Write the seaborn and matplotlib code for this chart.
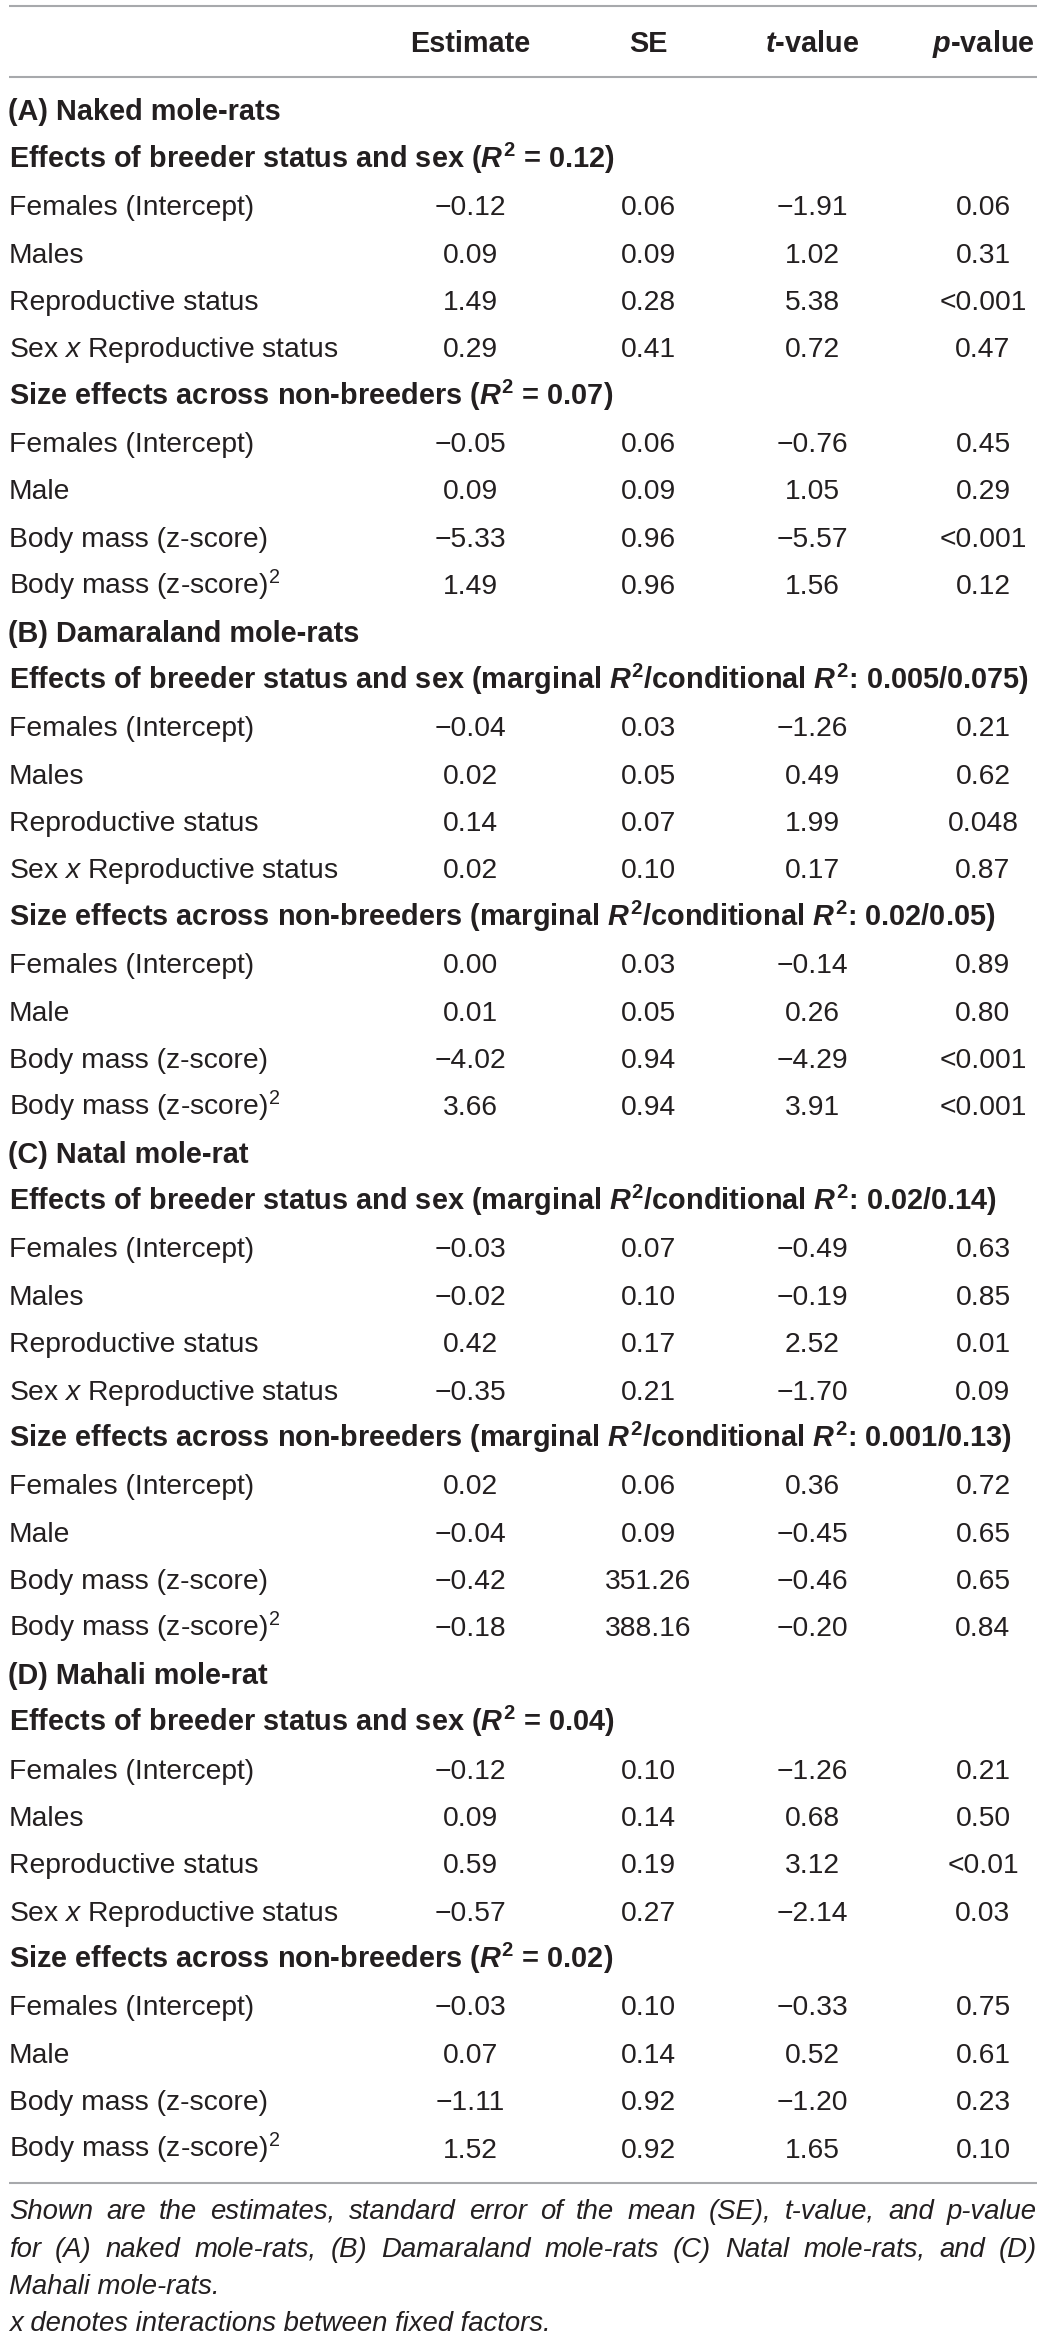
import matplotlib
matplotlib.use("Agg")
import matplotlib.pyplot as plt
import seaborn as sns

# ---------------- data ----------------
columns = ["Estimate", "SE", "t-value", "p-value"]
species = ["(A) Naked mole-rats", "(B) Damaraland mole-rats",
           "(C) Natal mole-rat", "(D) Mahali mole-rat"]
r2_labels = [
    ("$\\mathit{R}^{\\mathbf{2}}$ = 0.12", "$\\mathit{R}^{\\mathbf{2}}$ = 0.07"),
    ("marginal $\\mathit{R}^{\\mathbf{2}}$/conditional $\\mathit{R}^{\\mathbf{2}}$: 0.005/0.075",
     "marginal $\\mathit{R}^{\\mathbf{2}}$/conditional $\\mathit{R}^{\\mathbf{2}}$: 0.02/0.05"),
    ("marginal $\\mathit{R}^{\\mathbf{2}}$/conditional $\\mathit{R}^{\\mathbf{2}}$: 0.02/0.14",
     "marginal $\\mathit{R}^{\\mathbf{2}}$/conditional $\\mathit{R}^{\\mathbf{2}}$: 0.001/0.13"),
    ("$\\mathit{R}^{\\mathbf{2}}$ = 0.04", "$\\mathit{R}^{\\mathbf{2}}$ = 0.02"),
]
model_titles = ["Effects of breeder status and sex", "Size effects across non-breeders"]
terms_status = ["Females (Intercept)", "Males", "Reproductive status",
                "Sex $\\mathsf{x}$ Reproductive status"]
terms_size = ["Females (Intercept)", "Male", "Body mass (z-score)",
              "Body mass (z-score)$^{\\mathrm{2}}$"]

estimate = [
    [["−0.12", "0.09", "1.49", "0.29"], ["−0.05", "0.09", "−5.33", "1.49"]],
    [["−0.04", "0.02", "0.14", "0.02"], ["0.00", "0.01", "−4.02", "3.66"]],
    [["−0.03", "−0.02", "0.42", "−0.35"], ["0.02", "−0.04", "−0.42", "−0.18"]],
    [["−0.12", "0.09", "0.59", "−0.57"], ["−0.03", "0.07", "−1.11", "1.52"]],
]
se = [
    [["0.06", "0.09", "0.28", "0.41"], ["0.06", "0.09", "0.96", "0.96"]],
    [["0.03", "0.05", "0.07", "0.10"], ["0.03", "0.05", "0.94", "0.94"]],
    [["0.07", "0.10", "0.17", "0.21"], ["0.06", "0.09", "351.26", "388.16"]],
    [["0.10", "0.14", "0.19", "0.27"], ["0.10", "0.14", "0.92", "0.92"]],
]
tval = [
    [["−1.91", "1.02", "5.38", "0.72"], ["−0.76", "1.05", "−5.57", "1.56"]],
    [["−1.26", "0.49", "1.99", "0.17"], ["−0.14", "0.26", "−4.29", "3.91"]],
    [["−0.49", "−0.19", "2.52", "−1.70"], ["0.36", "−0.45", "−0.46", "−0.20"]],
    [["−1.26", "0.68", "3.12", "−2.14"], ["−0.33", "0.52", "−1.20", "1.65"]],
]
pval = [
    [["0.06", "0.31", "<0.001", "0.47"], ["0.45", "0.29", "<0.001", "0.12"]],
    [["0.21", "0.62", "0.048", "0.87"], ["0.89", "0.80", "<0.001", "<0.001"]],
    [["0.63", "0.85", "0.01", "0.09"], ["0.72", "0.65", "0.65", "0.84"]],
    [["0.21", "0.50", "<0.01", "0.03"], ["0.75", "0.61", "0.23", "0.10"]],
]
caption_lines = [
    "Shown are the estimates, standard error of the mean (SE), t-value, and p-value",
    "for (A) naked mole-rats, (B) Damaraland mole-rats (C) Natal mole-rats, and (D)",
    "Mahali mole-rats.",
    "x denotes interactions between fixed factors.",
]

# ---------------- style ----------------
sns.set_theme(style="white")
FONT = "Liberation Sans"
plt.rcParams["font.family"] = [FONT, "DejaVu Sans"]
plt.rcParams["mathtext.fontset"] = "custom"
plt.rcParams["mathtext.rm"] = FONT
plt.rcParams["mathtext.it"] = FONT + ":italic:bold"
plt.rcParams["mathtext.bf"] = FONT + ":bold"
plt.rcParams["mathtext.sf"] = FONT + ":italic"

TXT = "#231f20"
RULE = "#a7a9ac"
FS_B = 20.8
FS = 20.3

W, H = 1043, 2338
fig = plt.figure(figsize=(W / 100, H / 100), dpi=100)
ax = fig.add_axes([0, 0, 1, 1])
ax.set_xlim(0, W)
ax.set_ylim(H, 0)
ax.axis("off")

col_x = [470, 648, 812, 983]
left_x = 9
right_x = 1037
header_y = 42
row0 = 110
step = (2147 - 110) / 43
base_off = 10.5

# rules
ax.hlines([6, 77, 2183], left_x, right_x, color=RULE, lw=1.5)

# header
hdr = ["Estimate", "SE", "$\\mathit{t}$-value", "$\\mathit{p}$-value"]
for x, h in zip(col_x, hdr):
    ax.text(x, header_y + base_off, h, ha="center", va="baseline",
            fontsize=FS_B, fontweight="bold", color=TXT)

renderer = fig.canvas.get_renderer()

# body
r = 0
for s in range(len(species)):
    ax.text(left_x - 1, row0 + r * step + base_off, species[s], ha="left",
            va="baseline", fontsize=FS_B, fontweight="bold", color=TXT)
    r += 1
    for m in range(2):
        title = f"{model_titles[m]} ({r2_labels[s][m]})"
        t = ax.text(left_x, row0 + r * step + base_off, title, ha="left",
                    va="baseline", fontsize=FS_B, fontweight="bold", color=TXT)
        wdt = t.get_window_extent(renderer).width
        if wdt > right_x - left_x:
            t.set_fontsize(FS_B * (right_x - left_x) / wdt)
        r += 1
        terms = terms_status if m == 0 else terms_size
        for k in range(4):
            y = row0 + r * step + base_off
            ax.text(left_x, y, terms[k], ha="left", va="baseline",
                    fontsize=FS, color=TXT)
            vals = [estimate[s][m][k], se[s][m][k], tval[s][m][k], pval[s][m][k]]
            for x, v in zip(col_x, vals):
                ax.text(x, y, v, ha="center", va="baseline", fontsize=FS, color=TXT)
            r += 1

# caption (first two lines justified)
cap_y = [2210, 2248, 2285, 2322]
cap_fs = 19.8
min_gap = 5.0
for i, line in enumerate(caption_lines):
    y = cap_y[i] + 9
    if i < 2:
        words = line.split(" ")
        texts = [ax.text(0, y, w, ha="left", va="baseline", fontsize=cap_fs,
                         fontstyle="italic", color=TXT) for w in words]
        widths = [t.get_window_extent(renderer).width for t in texts]
        avail = right_x - left_x
        if sum(widths) + min_gap * (len(words) - 1) > avail:
            f = (avail - min_gap * (len(words) - 1)) / sum(widths)
            for t in texts:
                t.set_fontsize(cap_fs * f)
            widths = [t.get_window_extent(renderer).width for t in texts]
        gap = (avail - sum(widths)) / (len(words) - 1)
        x = left_x
        for t, wd in zip(texts, widths):
            t.set_x(x)
            x += wd + gap
    else:
        ax.text(left_x, y, line, ha="left", va="baseline", fontsize=cap_fs,
                fontstyle="italic", color=TXT)

fig.savefig("out.png", dpi=100)
